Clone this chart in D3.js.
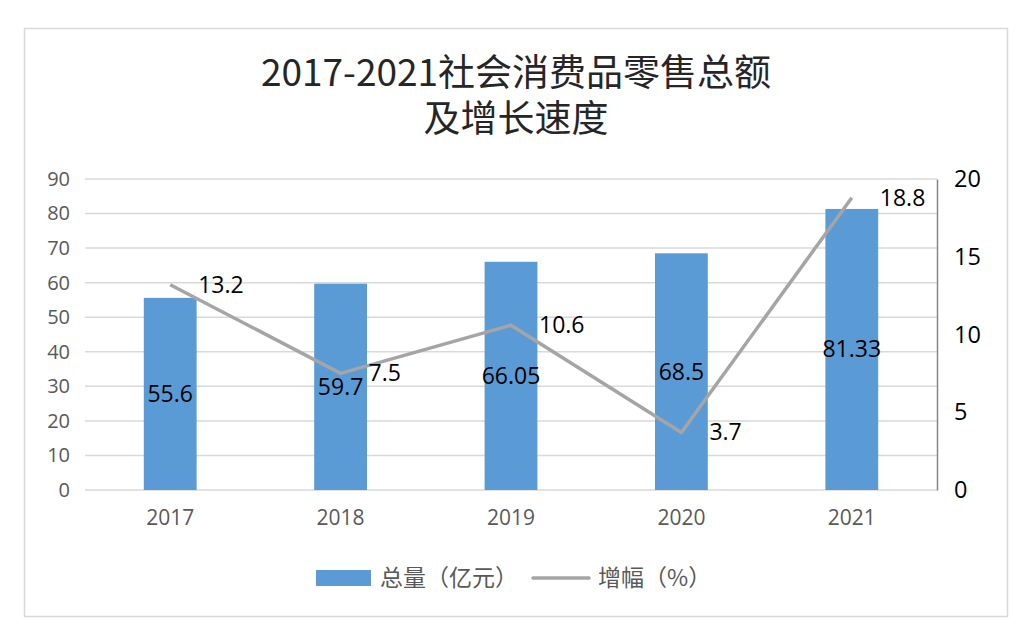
<!DOCTYPE html>
<html>
<head>
<meta charset="utf-8">
<style>
body { margin: 0; background: #fff; }
svg { font-family: "Noto Sans CJK SC", "Open Sans", sans-serif; }
.grid line { stroke: #d9d9d9; stroke-width: 1.5; }
.axis-left text { fill: #595959; font-family: "Open Sans", "Noto Sans", sans-serif; font-size: 20px; }
.axis-x text { fill: #595959; font-family: "Open Sans", "Noto Sans", sans-serif; font-size: 21px; }
.axis-right text { fill: #000; font-family: "Open Sans", "Noto Sans", sans-serif; font-size: 23.5px; }
.lbl { font-family: "Open Sans", "Noto Sans", sans-serif; font-size: 23px; fill: #000; }
</style>
</head>
<body>
<svg width="1031" height="644"></svg>
<script src="https://cdn.jsdelivr.net/npm/d3@7"></script>
<script>
var years = ["2017", "2018", "2019", "2020", "2021"]
var totals = [55.6, 59.7, 66.05, 68.5, 81.33]
var growth = [13.2, 7.5, 10.6, 3.7, 18.8]
var leftTicks = [0, 10, 20, 30, 40, 50, 60, 70, 80, 90]
var rightTicks = [0, 5, 10, 15, 20]

var svg = d3.select("svg")
var plot = {left: 85, right: 937, top: 179, bottom: 490}

// outer frame
svg.append("rect")
  .attr("x", 24.5).attr("y", 28.5)
  .attr("width", 983).attr("height", 588)
  .attr("fill", "#fff").attr("stroke", "#d9d9d9").attr("stroke-width", 1.5)

// title
var title = svg.append("text")
  .attr("text-anchor", "middle")
  .attr("fill", "#262626")
  .attr("font-size", 37)
title.append("tspan").attr("x", 516).attr("y", 86).text("2017-2021社会消费品零售总额")
title.append("tspan").attr("x", 516).attr("y", 132).text("及增长速度")

var x = d3.scaleBand().domain(years).range([plot.left, plot.right]).paddingInner(0.69).paddingOuter(0.345)
var yL = d3.scaleLinear().domain([0, 90]).range([plot.bottom, plot.top])
var yR = d3.scaleLinear().domain([0, 20]).range([plot.bottom, plot.top])

// gridlines
svg.append("g").attr("class", "grid")
  .selectAll("line").data(leftTicks).join("line")
  .attr("x1", plot.left).attr("x2", plot.right)
  .attr("y1", function(d) { return yL(d) }).attr("y2", function(d) { return yL(d) })

// left axis
var gl = svg.append("g").attr("class", "axis-left")
  .attr("transform", "translate(" + plot.left + ",0)")
  .call(d3.axisLeft(yL).tickValues(leftTicks).tickSize(0).tickPadding(15))
gl.select(".domain").remove()

// right axis
var gr = svg.append("g").attr("class", "axis-right")
  .attr("transform", "translate(" + plot.right + ",0)")
  .call(d3.axisRight(yR).tickValues(rightTicks).tickSize(0).tickPadding(17))
gr.select(".domain").attr("stroke", "#868686").attr("stroke-width", 1.5)

// x axis labels
var gx = svg.append("g").attr("class", "axis-x")
  .attr("transform", "translate(0," + plot.bottom + ")")
  .call(d3.axisBottom(x).tickSize(0).tickPadding(20))
gx.select(".domain").remove()

// bars
svg.append("g").selectAll("rect").data(totals).join("rect")
  .attr("x", function(d, i) { return x(years[i]) })
  .attr("width", x.bandwidth())
  .attr("y", function(d) { return yL(d) })
  .attr("height", function(d) { return yL(0) - yL(d) })
  .attr("fill", "#5b9bd5")

// bar labels
svg.append("g").selectAll("text").data(totals).join("text")
  .attr("class", "lbl")
  .attr("text-anchor", "middle")
  .attr("x", function(d, i) { return x(years[i]) + x.bandwidth() / 2 })
  .attr("y", function(d) { return (yL(d) + yL(0)) / 2 + 8 })
  .text(function(d) { return d })

// growth line
var line = d3.line()
  .x(function(d, i) { return x(years[i]) + x.bandwidth() / 2 })
  .y(function(d) { return yR(d) })
svg.append("path").datum(growth)
  .attr("d", line)
  .attr("fill", "none")
  .attr("stroke", "#a5a5a5")
  .attr("stroke-width", 3.5)
  .attr("stroke-linejoin", "round")

svg.append("g").selectAll("text").data(growth).join("text")
  .attr("class", "lbl")
  .attr("x", function(d, i) { return x(years[i]) + x.bandwidth() / 2 + 28 })
  .attr("y", function(d) { return yR(d) + 8 })
  .text(function(d) { return d })

// legend
var lg = svg.append("g").attr("font-size", 23).attr("fill", "#595959")
lg.append("rect").attr("x", 316).attr("y", 570).attr("width", 55).attr("height", 16).attr("fill", "#5b9bd5")
lg.append("text").attr("x", 380).attr("y", 586).text("总量（亿元）")
lg.append("line").attr("x1", 533).attr("x2", 589).attr("y1", 578).attr("y2", 578)
  .attr("stroke", "#a5a5a5").attr("stroke-width", 3.5).attr("stroke-linecap", "round")
lg.append("text").attr("x", 598).attr("y", 586).text("增幅（%）")
</script>
</body>
</html>
